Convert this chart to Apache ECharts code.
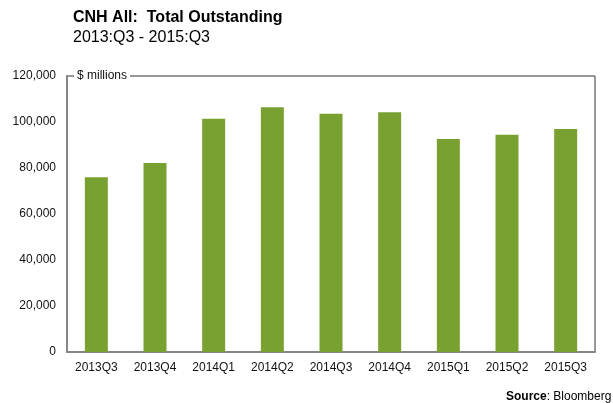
<!DOCTYPE html>
<html>
<head>
<meta charset="utf-8">
<script src="https://cdn.jsdelivr.net/npm/echarts@6/dist/echarts.min.js"></script>
<style>
  html, body { margin: 0; padding: 0; background: #fff; }
  #chart { width: 613px; height: 403px; }
</style>
</head>
<body>
<div id="chart"></div>
<script>
// quarters on the x axis
var quarters = ['2013Q3', '2013Q4', '2014Q1', '2014Q2', '2014Q3', '2014Q4', '2015Q1', '2015Q2', '2015Q3']
// total outstanding, $ millions
var outstanding = [76000, 82200, 101400, 106400, 103600, 104200, 92600, 94500, 97000]

var chart = echarts.init(document.getElementById('chart'))
var option = {
  animation: false,
  textStyle: { fontFamily: 'Liberation Sans, Arial, sans-serif' },
  title: {
    text: 'CNH All:  Total Outstanding',
    subtext: '2013:Q3 - 2015:Q3',
    left: 68,
    top: 5,
    itemGap: 4,
    textStyle: { fontSize: 16, fontWeight: 'bold', color: '#000' },
    subtextStyle: { fontSize: 16, color: '#000' }
  },
  grid: {
    left: 67,
    right: 18,
    top: 76,
    bottom: 51,
    show: true,
    borderColor: '#333',
    borderWidth: 1
  },
  graphic: [
    {
      type: 'text',
      left: 74,
      top: 69,
      z: 100,
      style: {
        text: '$ millions',
        fontSize: 12,
        fontFamily: 'Liberation Sans, Arial, sans-serif',
        fill: '#111',
        backgroundColor: '#fff',
        padding: [1, 3, 1, 3]
      }
    },
    {
      type: 'text',
      left: 506,
      top: 391,
      style: {
        rich: {
          b: { fontWeight: 'bold', fontSize: 12, fill: '#000' },
          n: { fontSize: 12, fill: '#000' }
        },
        text: '{b|Source}{n|: Bloomberg}',
        fontFamily: 'Liberation Sans, Arial, sans-serif'
      }
    }
  ],
  xAxis: {
    type: 'category',
    data: quarters,
    axisLine: { show: true, lineStyle: { color: '#868686', width: 2 } },
    axisTick: { show: false },
    axisLabel: { color: '#111', fontSize: 12, margin: 10 }
  },
  yAxis: {
    type: 'value',
    min: 0,
    max: 120000,
    interval: 20000,
    axisLine: { show: true, lineStyle: { color: '#868686', width: 2 } },
    axisTick: { show: false },
    splitLine: { show: false },
    axisLabel: {
      color: '#111',
      fontSize: 12,
      margin: 11,
      formatter: function (v) { return v.toLocaleString('en-US') }
    }
  },
  series: [{
    type: 'bar',
    data: outstanding,
    barWidth: 23,
    itemStyle: { color: '#79a132' }
  }]
}
chart.setOption(option)
</script>
</body>
</html>
